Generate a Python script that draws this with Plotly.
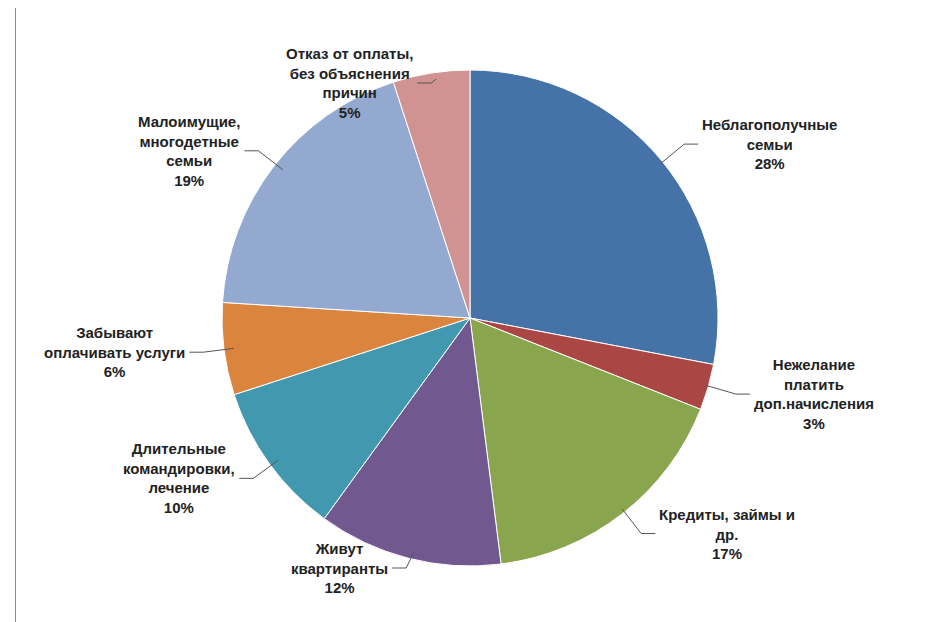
import math
import plotly.graph_objects as go

labels = ["Неблагополучные<br>семьи", "Нежелание<br>платить<br>доп.начисления",
          "Кредиты, займы и<br>др.", "Живут<br>квартиранты", "Длительные<br>командировки,<br>лечение",
          "Забывают<br>оплачивать услуги", "Малоимущие,<br>многодетные<br>семьи",
          "Отказ от оплаты,<br>без объяснения<br>причин"]
values = [28, 3, 17, 12, 10, 6, 19, 5]
colors = ["#4572A7", "#AA4643", "#89A54E", "#71588F", "#4198AF", "#DB843D", "#93A9CF", "#D19392"]

W, H = 933, 622
cx, cy, R = 466, 310, 248

fig = go.Figure(go.Pie(
    labels=labels, values=values, sort=False, direction="clockwise", rotation=0,
    marker=dict(colors=colors, line=dict(color="white", width=1)),
    textinfo="none", hoverinfo="label+percent", showlegend=False,
    domain=dict(x=[0, (2 * cx - 8) / W], y=[(H - cy - R) / H, (H - cy + R) / H]),
))

annotations, shapes = [], []
total = sum(values)
cum = 0
for lab, v in zip(labels, values):
    mid = (cum + v / 2) / total * 2 * math.pi
    cum += v
    sx, sy = math.sin(mid), -math.cos(mid)
    side = 1 if sx >= 0 else -1
    p0 = (cx + (R - 6) * sx, cy + (R - 6) * sy)
    p1 = (cx + 1.1 * R * sx, cy + 1.1 * R * sy)
    ty = min(max(p1[1], 75), 560)
    p2 = (p1[0] + side * 14, ty)
    shapes.append(dict(type="path", xref="paper", yref="paper",
                       path=f"M {p0[0]/W} {1-p0[1]/H} L {p1[0]/W} {1-ty/H} L {p2[0]/W} {1-p2[1]/H}",
                       line=dict(color="#555", width=1)))
    annotations.append(dict(xref="paper", yref="paper", x=(p2[0] + side * 2) / W, y=1 - ty / H,
                            text=f"<b>{lab}<br>{round(v / total * 100)}%</b>", showarrow=False,
                            align="center", xanchor="left" if side > 0 else "right", yanchor="middle",
                            font=dict(family="Liberation Sans", size=15, color="#222")))

for x in (0.008, 0.988):
    shapes.append(dict(type="line", xref="paper", yref="paper", x0=x, x1=x, y0=0, y1=1,
                       line=dict(color="#888", width=1)))

fig.update_layout(width=W, height=H, margin=dict(l=0, r=0, t=0, b=0),
                  paper_bgcolor="white", annotations=annotations, shapes=shapes)
fig.write_html("out.html")
